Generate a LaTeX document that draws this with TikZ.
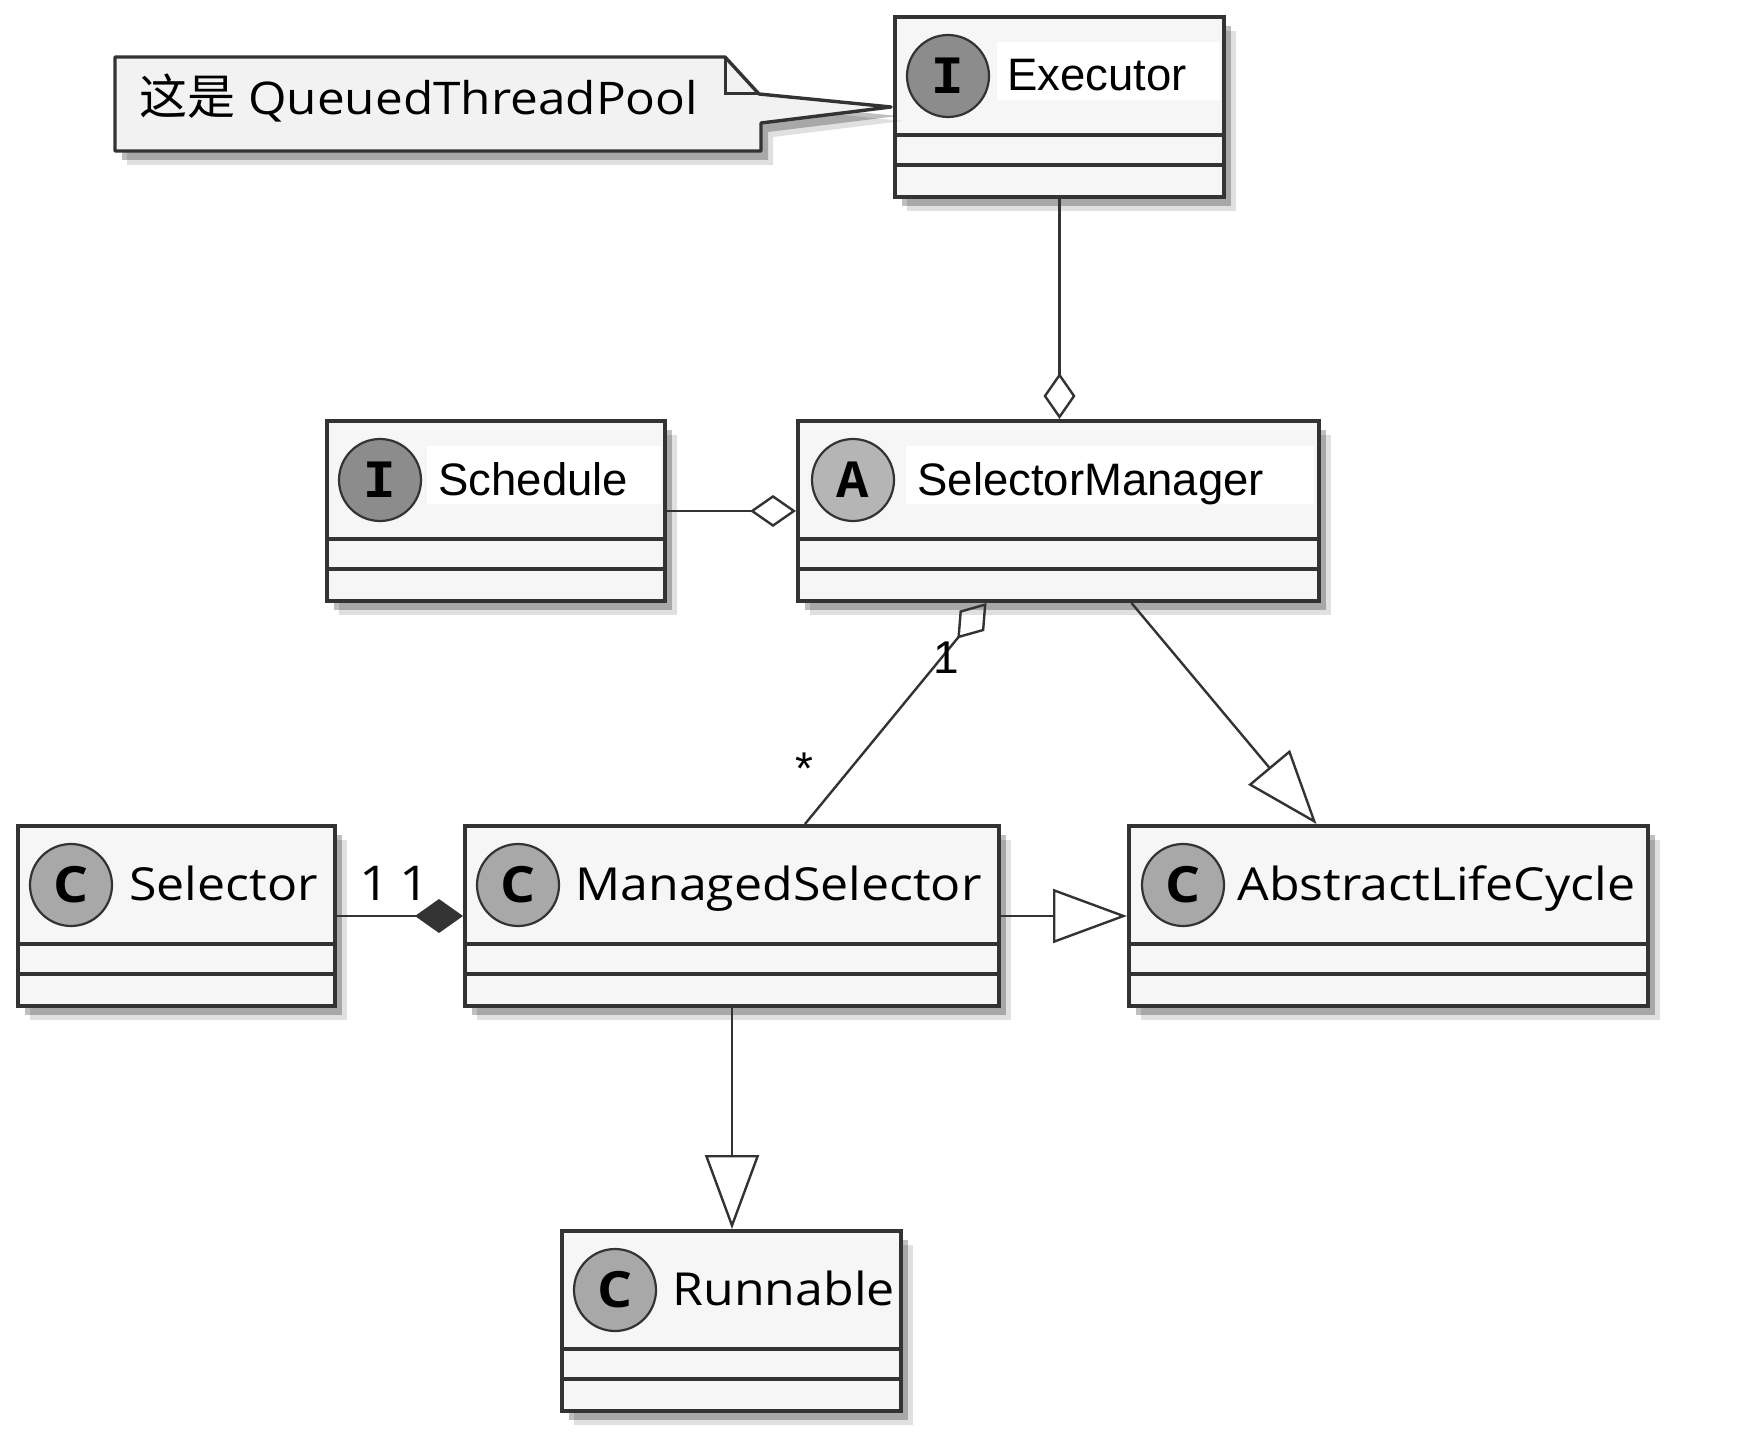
\documentclass[tikz,border=0pt]{standalone}
\usepackage{fontspec}
\setmainfont{Liberation Sans}
\newfontfamily\segoe[FakeStretch=1.1]{Open Sans}
\newfontfamily\cjk{Noto Sans CJK SC}
\newfontfamily\monob{Liberation Mono}
\usetikzlibrary{arrows.meta,shadows,calc}
\definecolor{border}{rgb}{0.2,0.2,0.2}
\definecolor{boxbg}{rgb}{0.965,0.965,0.965}
\definecolor{notebg}{rgb}{0.95,0.95,0.95}
\definecolor{igray}{rgb}{0.55,0.55,0.55}
\definecolor{agray}{rgb}{0.71,0.71,0.71}
\definecolor{cgray}{rgb}{0.66,0.66,0.66}

\tikzset{
  boxshadow/.style={drop shadow={shadow xshift=6pt, shadow yshift=-7pt, opacity=0.12, fill=black},
    drop shadow={shadow xshift=3.5pt, shadow yshift=-4.5pt, opacity=0.25, fill=black}},
  classbox/.style={draw=border, fill=boxbg, line width=2pt, anchor=north west,
    minimum height=90pt, inner sep=0pt, boxshadow},
  icon/.style={circle, draw=border, line width=1.1pt, minimum size=41pt, inner sep=0pt},
  iletter/.style={font=\monob\bfseries\fontsize{27}{27}\selectfont},
  cletter/.style={font=\segoe\bfseries\fontsize{25}{25}\selectfont},
  topname/.style={anchor=base west, inner sep=0pt, font=\fontsize{22.75}{27}\selectfont},
  lowname/.style={anchor=base west, inner sep=0pt, font=\segoe\fontsize{22.75}{27}\selectfont},
  link/.style={draw=border, line width=1.2pt},
  agg/.style={link, -{Diamond[open, length=23pt, width=16pt]}},
  comp/.style={link, -{Diamond[length=24pt, width=17pt]}},
  inh/.style={link, -{Triangle[open, length=37pt, width=27pt]}},
  mult/.style={anchor=base, inner sep=0pt, font=\fontsize{23}{23}\selectfont},
}

\begin{document}
\begin{tikzpicture}[x=0.5pt,y=-0.5pt]
\useasboundingbox (0,0) rectangle (1738,1443);

% class boxes
\node[classbox, minimum width=164.5pt] (ex) at (893,15) {};
\node[classbox, minimum width=169pt] (sch) at (325,419) {};
\node[classbox, minimum width=260.5pt] (sm) at (796,419) {};
\node[classbox, minimum width=158.5pt] (sel) at (16,824) {};
\node[classbox, minimum width=267pt] (ms) at (463,824) {};
\node[classbox, minimum width=259.5pt] (alc) at (1127,824) {};
\node[classbox, minimum width=169.5pt] (run) at (560,1229) {};

\foreach \c in {ex,sch,sm,sel,ms,alc,run}
  \draw[border, line width=1.8pt] ($(\c.north west)+(0,120)$) -- ($(\c.north east)+(0,120)$)
    ($(\c.north west)+(0,150)$) -- ($(\c.north east)+(0,150)$);

% white band behind the names
\fill[white] ($(ex.north west)+(104,27)$) rectangle ($(ex.north east)+(-6,85)$);
\fill[white] ($(sch.north west)+(102,27)$) rectangle ($(sch.north east)+(-6,85)$);
\fill[white] ($(sm.north west)+(110,27)$) rectangle ($(sm.north east)+(-7,85)$);

% headers
\node[icon, fill=igray, iletter] (exi) at ($(ex.north west)+(55,61)$) {I};
\node[topname] (exn) at ($(ex.north west)+(114,76)$) {Executor};
\node[icon, fill=igray, iletter] (schi) at ($(sch.north west)+(55,61)$) {I};
\node[topname] (schn) at ($(sch.north west)+(113,76)$) {Schedule};
\node[icon, fill=agray, iletter] (smi) at ($(sm.north west)+(57,61)$) {A};
\node[topname] (smn) at ($(sm.north west)+(121,76)$) {SelectorManager};
\node[icon, fill=cgray, cletter] (seli) at ($(sel.north west)+(55,61)$) {C};
\node[lowname] (seln) at ($(sel.north west)+(113,76)$) {Selector};
\node[icon, fill=cgray, cletter] (msi) at ($(ms.north west)+(55,61)$) {C};
\node[lowname] (msn) at ($(ms.north west)+(112,76)$) {ManagedSelector};
\node[icon, fill=cgray, cletter] (alci) at ($(alc.north west)+(56,61)$) {C};
\node[lowname] (alcn) at ($(alc.north west)+(110,76)$) {AbstractLifeCycle};
\node[icon, fill=cgray, cletter] (runi) at ($(run.north west)+(55,61)$) {C};
\node[lowname] (runn) at ($(run.north west)+(112,76)$) {Runnable};

% note
\draw[border, fill=notebg, line width=1.7pt, line join=round, boxshadow] (115,57) -- (725,57) -- (759,94)
  -- ([xshift=-1pt]ex.west) -- (761,123) -- (761,151) -- (115,151) -- cycle;
\draw[border, line width=1.5pt] (725,57) -- (725,94) -- (759,94);
\node[anchor=base west, inner sep=0pt, font=\segoe\fontsize{22.5}{24}\selectfont] (note)
  at (139,115) {{\cjk\fontsize{24}{24}\selectfont 这是} QueuedThreadPool};

% relations
\draw[agg] (ex.south) -- (ex.south |- sm.north);
\draw[agg] (sch) -- (sm);
\draw[agg] ([xshift=36.5pt]ms.north) -- ([xshift=-36pt]sm.south);
\draw[inh] ([xshift=36.5pt]sm.south) -- ([xshift=-36pt]alc.north);
\draw[comp] (sel) -- (ms);
\draw[inh] (ms) -- (alc);
\draw[inh] (ms.south) -- (ms.south |- run.north);

\node[mult] (smone) at (946,673) {1};
\node[mult] (msstar) at (804,784) {*};
\node[mult, font=\segoe\fontsize{24}{24}\selectfont] (selone) at (375,900) {1};
\node[mult, font=\segoe\fontsize{24}{24}\selectfont] (msone) at (415,900) {1};
\end{tikzpicture}
\end{document}
